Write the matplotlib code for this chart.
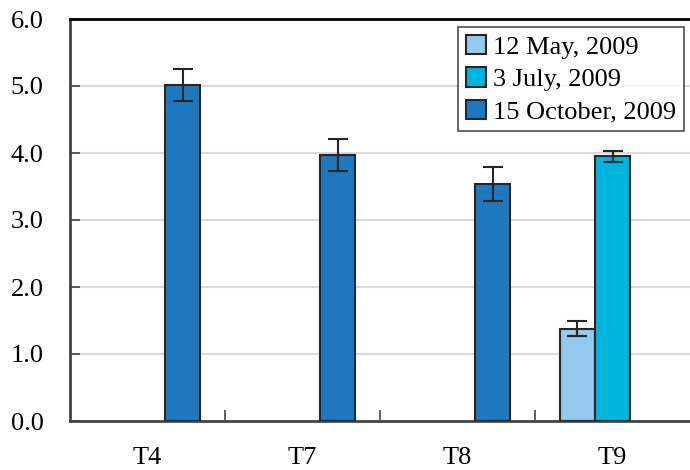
import numpy as np
import matplotlib.pyplot as plt

plt.rcParams['font.family'] = ['Liberation Serif', 'DejaVu Serif']

sites = ["T4", "T7", "T8", "T9"]
series = ["12 May, 2009", "3 July, 2009", "15 October, 2009"]
may = [np.nan, np.nan, np.nan, 1.38]
may_err = [0, 0, 0, 0.11]
july = [np.nan, np.nan, np.nan, 3.95]
july_err = [0, 0, 0, 0.08]
october = [5.02, 3.97, 3.54, np.nan]
october_err = [0.24, 0.24, 0.25, 0]

colors = ["#92c9ec", "#00b5dd", "#1f78be"]

fig = plt.figure(figsize=(6.9, 4.7), dpi=100)
ax = fig.add_axes([70 / 690, 1 - 421 / 470, 620 / 690, 402 / 470])

x = np.arange(len(sites))
w = 0.226
for i, (vals, errs) in enumerate([(may, may_err), (july, july_err), (october, october_err)]):
    ax.bar(x + (i - 1) * w, vals, w, yerr=errs, color=colors[i], edgecolor="#262626",
           linewidth=1.5, label=series[i], zorder=3,
           error_kw=dict(ecolor="#262626", elinewidth=1.5, capsize=7, capthick=1.5))

ax.set_xlim(-0.5, 3.5)
ax.set_ylim(0, 6)
ax.set_yticks(np.arange(0, 6.1, 1.0))
ax.set_yticklabels([f"{v:.1f}" for v in np.arange(0, 6.1, 1.0)], fontsize=19)
ax.set_xticks(x)
ax.set_xticklabels(sites, fontsize=19)
ax.tick_params(axis="x", length=0, pad=19)
ax.tick_params(axis="y", direction="in", length=7, width=1.2, color="#444444", pad=19)
ax.set_xticks([0.5, 1.5, 2.5], minor=True)
ax.tick_params(axis="x", which="minor", direction="in", length=8, width=1.2, color="#444444")
ax.grid(axis="y", color="#d9d9df", linewidth=1.5, zorder=0)

ax.spines["right"].set_visible(False)
ax.spines["top"].set_color("black")
ax.spines["top"].set_linewidth(2)
for s in ["left", "bottom"]:
    ax.spines[s].set_color("#444444")
    ax.spines[s].set_linewidth(2)

leg = ax.legend(loc="upper right", bbox_to_anchor=(0.990, 0.98), fontsize=19, frameon=True,
                fancybox=False, edgecolor="#222222", handlelength=0.75, handleheight=0.75,
                handletextpad=0.25, labelspacing=0.32, borderpad=0.3, borderaxespad=0)
leg.get_frame().set_linewidth(1.2)

fig.savefig("out.png", dpi=100)
